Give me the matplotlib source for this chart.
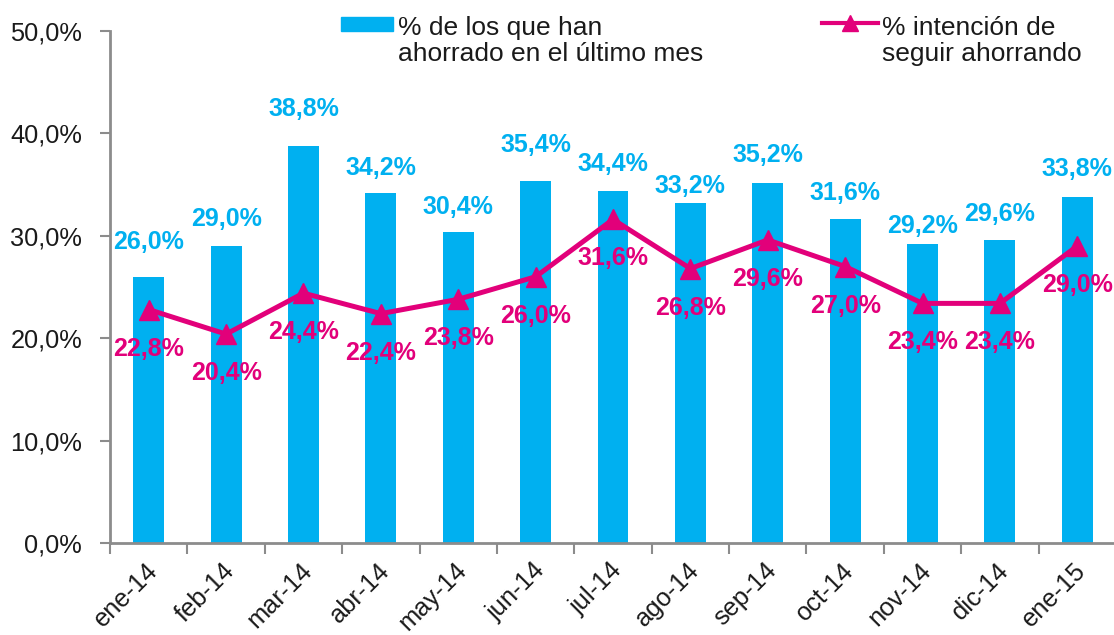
import matplotlib
matplotlib.use("Agg")
import matplotlib.pyplot as plt
from matplotlib.patches import Rectangle
from matplotlib.lines import Line2D
from matplotlib.transforms import ScaledTranslation
import numpy as np

# ---- data ----
months = ["ene-14", "feb-14", "mar-14", "abr-14", "may-14", "jun-14", "jul-14",
          "ago-14", "sep-14", "oct-14", "nov-14", "dic-14", "ene-15"]
ahorrado = [26.0, 29.0, 38.8, 34.2, 30.4, 35.4, 34.4, 33.2, 35.2, 31.6, 29.2, 29.6, 33.8]
intencion = [22.8, 20.4, 24.4, 22.4, 23.8, 26.0, 31.6, 26.8, 29.6, 27.0, 23.4, 23.4, 29.0]
yticks = [0, 10, 20, 30, 40, 50]
legend_bar = "% de los que han\nahorrado en el último mes"
legend_line = "% intención de\nseguir ahorrando"

# ---- styles ----
BLUE = "#00B0F0"
PINK = "#E2007A"
GREY = "#8C8C8C"
W, H = 1114, 635
bar_label_offsets_px = [35, 27, 37, 25, 25, 36, 27, 17, 28, 26, 18, 26, 28]
line_label_offset_px = 39

plt.rcParams['font.family'] = ['Liberation Sans', 'DejaVu Sans']

fig = plt.figure(figsize=(W / 100, H / 100), dpi=100)
ax_left, ax_right = 110, 1116
ax_top, ax_bottom = 31, 543
ax = fig.add_axes([ax_left / W, 1 - ax_bottom / H, (ax_right - ax_left) / W, (ax_bottom - ax_top) / H])

x = np.arange(len(months))
ax.bar(x, ahorrado, width=0.4, color=BLUE, zorder=2)
ax.plot(x, intencion, color=PINK, lw=3.6, marker='^', markersize=14, zorder=3)

def fmt(v):
    return f"{v:.1f}%".replace(".", ",")

pt = 72 / 100  # points per pixel
for i, v in enumerate(ahorrado):
    ax.annotate(fmt(v), (i, v), xytext=(0, bar_label_offsets_px[i] * pt), textcoords='offset points',
                ha='center', va='center', color=BLUE, fontsize=18, fontweight='bold', zorder=4)
for i, v in enumerate(intencion):
    ax.annotate(fmt(v), (i, v), xytext=(0, -line_label_offset_px * pt), textcoords='offset points',
                ha='center', va='center', color=PINK, fontsize=18, fontweight='bold', zorder=4)

ax.set_xlim(-0.5, len(months) - 0.5)
ax.set_ylim(0, 50)
ax.set_yticks(yticks)
ax.set_yticklabels([fmt(t) for t in yticks], fontsize=18.3, color='#1a1a1a')
ax.tick_params(axis='y', length=7, width=1.5, color=GREY, pad=13)

ax.set_xticks(x)
ax.set_xticklabels(months, fontsize=18.3, color='#1a1a1a', rotation=45,
                   ha='right', va='center', rotation_mode='anchor')
ax.tick_params(axis='x', which='major', length=0, pad=17)
shift = ScaledTranslation(5 / 100, 0, fig.dpi_scale_trans)
for lab in ax.get_xticklabels():
    lab.set_transform(lab.get_transform() + shift)
ax.set_xticks(np.arange(len(months) + 1) - 0.5, minor=True)
ax.tick_params(axis='x', which='minor', length=8, width=1.5, color=GREY)

for s in ['top', 'right']:
    ax.spines[s].set_visible(False)
for s in ['left', 'bottom']:
    ax.spines[s].set_color(GREY)
    ax.spines[s].set_linewidth(2)

# ---- legend (figure pixel coordinates) ----
def fx(px):
    return px / W

def fy(py):
    return 1 - py / H

fig.patches.append(Rectangle((fx(341), fy(31)), fx(393) - fx(341), fy(17) - fy(31),
                             transform=fig.transFigure, color=BLUE))
fig.text(fx(398), fy(41), legend_bar, fontsize=19, color='#1a1a1a',
         ha='left', va='center', linespacing=1.12)
fig.lines.append(Line2D([fx(822), fx(878)], [fy(23), fy(23)], transform=fig.transFigure,
                        color=PINK, lw=3))
fig.lines.append(Line2D([fx(850)], [fy(23)], transform=fig.transFigure, color=PINK,
                        marker='^', markersize=12, lw=0))
fig.text(fx(882), fy(41), legend_line, fontsize=19, color='#1a1a1a',
         ha='left', va='center', linespacing=1.12)

fig.savefig("out.png", dpi=100)
